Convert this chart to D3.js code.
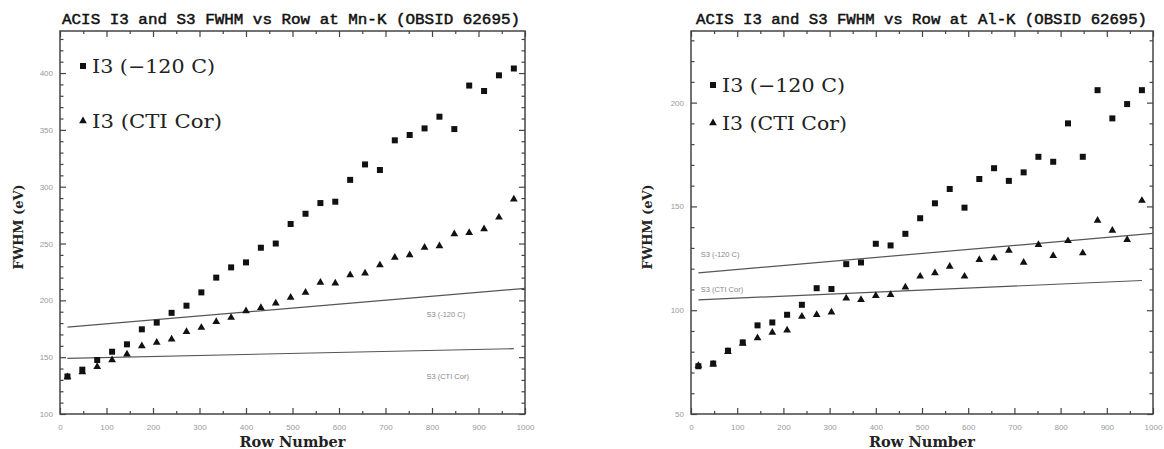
<!DOCTYPE html>
<html>
<head>
<meta charset="utf-8">
<script src="https://cdn.jsdelivr.net/npm/d3@7"></script>
<style>
  html, body { margin: 0; padding: 0; background: #fff; }
  svg { display: block; }
</style>
</head>
<body>
<svg id="chart" width="1164" height="449"></svg>
<script>
// Row positions of the binned measurements (shared by both lines)
const rows = [16, 48, 80, 112, 144, 176, 208, 240, 272, 304, 336, 368, 400, 432, 464, 496,
              528, 560, 592, 624, 656, 688, 720, 752, 784, 816, 848, 880, 912, 944, 976];

// Mn-K FWHM (eV)
const mnI3Cold = [133, 139, 147.5, 154.8, 161.3, 174.5, 180.4, 189, 195.3, 207, 220, 229, 233.4, 246.3, 250, 267.2,
                  276.2, 285.6, 286.8, 306, 319.6, 314.7, 340.8, 345.5, 351.3, 361.6, 350.7, 389, 384.2, 398, 404];
const mnI3Cti  = [132.5, 137, 141.6, 147.5, 152.5, 159.8, 163, 165.7, 172.4, 176, 181.2, 184.8, 190.6, 193.5, 197.4, 202.6,
                  207, 215.8, 215, 222.3, 223.8, 231, 237.8, 239.9, 246.6, 247.8, 258.4, 259.5, 262.8, 273, 289];

// Al-K FWHM (eV)
const alI3Cold = [73, 74.3, 80.5, 84.5, 92.7, 94.1, 97.8, 102.6, 110.6, 110.2, 122.2, 123, 132, 131.2, 136.8, 144.3,
                  151.5, 158.4, 149.4, 163.2, 168.4, 162.3, 166.4, 173.9, 171.5, 190, 173.9, 206, 192.4, 199.3, 206];
const alI3Cti  = [73.3, 74, 80, 84, 86.6, 89.3, 90.3, 97, 97.8, 99, 105.8, 105, 107, 107.4, 111.1, 116.3,
                  117.9, 121.1, 116.3, 124.3, 125.1, 128.8, 123, 131.5, 126.2, 133.4, 127.5, 143.2, 138.4, 133.9, 152.8];

// S3 reference fits: [row, FWHM] end points
const mnS3Cold = [[16, 176.5], [1000, 210.5]];
const mnS3Cti  = [[16, 149], [976, 157.5]];
const alS3Cold = [[16, 118], [1000, 137]];
const alS3Cti  = [[16, 105], [976, 114.3]];

// Axis ticks
const xMajor = [0, 100, 200, 300, 400, 500, 600, 700, 800, 900, 1000];
const xMinor = [50, 150, 250, 350, 450, 550, 650, 750, 850, 950];
const mnYMajor = [100, 150, 200, 250, 300, 350, 400];
const alYMajor = [50, 100, 150, 200];

const panels = [
  {
    title: "ACIS I3 and S3 FWHM vs Row at Mn-K (OBSID 62695)",
    titleX: 62, titleLen: 458,
    x0: 60, x1: 525, yDomain: [100, 437],
    yMajor: mnYMajor, yMinorStep: 10,
    cold: mnI3Cold, cti: mnI3Cti,
    s3Cold: mnS3Cold, s3Cti: mnS3Cti,
    s3ColdLabel: { row: 788, val: 188 },
    s3CtiLabel:  { row: 788, val: 133.5 },
    legend: { x: 83, y1: 66, y2: 121, tx: 92, len1: 123, len2: 130 },
    yTitleX: 18
  },
  {
    title: "ACIS I3 and S3 FWHM vs Row at Al-K (OBSID 62695)",
    titleX: 696, titleLen: 451,
    x0: 691, x1: 1153, yDomain: [50, 234.5],
    yMajor: alYMajor, yMinorStep: 10,
    cold: alI3Cold, cti: alI3Cti,
    s3Cold: alS3Cold, s3Cti: alS3Cti,
    s3ColdLabel: { row: 21, val: 127 },
    s3CtiLabel:  { row: 21, val: 110.2 },
    legend: { x: 713, y1: 85, y2: 123, tx: 722, len1: 123, len2: 125 },
    yTitleX: 647
  }
];

const svg = d3.select("#chart");
const yTop = 31, yBottom = 414;
const frameColor = "#444";
const tickFont = "Liberation Sans, Arial, sans-serif";
const serifFont = "DejaVu Serif, Liberation Serif, serif";

panels.forEach(p => {
  const g = svg.append("g");
  const x = d3.scaleLinear().domain([0, 1000]).range([p.x0, p.x1]);
  const y = d3.scaleLinear().domain(p.yDomain).range([yBottom, yTop]);

  const yMinor = d3.range(p.yDomain[0], p.yDomain[1], p.yMinorStep)
    .filter(v => !p.yMajor.includes(v));

  // title
  g.append("text")
    .attr("x", p.titleX).attr("y", 24)
    .attr("textLength", p.titleLen).attr("lengthAdjust", "spacingAndGlyphs")
    .style("font-family", "Liberation Mono, DejaVu Sans Mono, monospace")
    .style("font-size", "14px").style("fill", "#111")
    .style("stroke", "#111").style("stroke-width", "0.45px")
    .text(p.title);

  // axes with inward ticks on all four sides
  const styleAxis = sel => {
    sel.select(".domain").remove();
    sel.selectAll(".tick line").attr("stroke", frameColor).attr("stroke-width", 1.2);
    sel.selectAll(".tick text").style("font-family", tickFont).style("font-size", "8px").style("fill", "#999");
  };

  g.append("g").attr("transform", `translate(0,${yBottom})`)
    .call(d3.axisBottom(x).tickValues(xMajor).tickSizeInner(-6).tickSizeOuter(0).tickPadding(10).tickFormat(d3.format("d")))
    .call(styleAxis);
  g.append("g").attr("transform", `translate(0,${yBottom})`)
    .call(d3.axisBottom(x).tickValues(xMinor).tickSizeInner(-3).tickSizeOuter(0).tickFormat(""))
    .call(styleAxis);
  g.append("g").attr("transform", `translate(0,${yTop})`)
    .call(d3.axisTop(x).tickValues(xMajor).tickSizeInner(-6).tickSizeOuter(0).tickFormat(""))
    .call(styleAxis);
  g.append("g").attr("transform", `translate(0,${yTop})`)
    .call(d3.axisTop(x).tickValues(xMinor).tickSizeInner(-3).tickSizeOuter(0).tickFormat(""))
    .call(styleAxis);

  g.append("g").attr("transform", `translate(${p.x0},0)`)
    .call(d3.axisLeft(y).tickValues(p.yMajor).tickSizeInner(-6).tickSizeOuter(0).tickPadding(7).tickFormat(d3.format("d")))
    .call(styleAxis);
  g.append("g").attr("transform", `translate(${p.x0},0)`)
    .call(d3.axisLeft(y).tickValues(yMinor).tickSizeInner(-3.5).tickSizeOuter(0).tickFormat(""))
    .call(styleAxis);
  g.append("g").attr("transform", `translate(${p.x1},0)`)
    .call(d3.axisRight(y).tickValues(p.yMajor).tickSizeInner(-6).tickSizeOuter(0).tickFormat(""))
    .call(styleAxis);
  g.append("g").attr("transform", `translate(${p.x1},0)`)
    .call(d3.axisRight(y).tickValues(yMinor).tickSizeInner(-3.5).tickSizeOuter(0).tickFormat(""))
    .call(styleAxis);

  // frame
  g.append("rect")
    .attr("x", p.x0).attr("y", yTop)
    .attr("width", p.x1 - p.x0).attr("height", yBottom - yTop)
    .attr("fill", "none").attr("stroke", frameColor).attr("stroke-width", 1.5);

  // axis titles
  g.append("text")
    .attr("x", (p.x0 + p.x1) / 2).attr("y", 447)
    .attr("text-anchor", "middle")
    .attr("textLength", 106).attr("lengthAdjust", "spacingAndGlyphs")
    .style("font-family", serifFont).style("font-weight", "bold").style("font-size", "14px").style("fill", "#222")
    .text("Row Number");
  g.append("text")
    .attr("transform", `translate(${p.yTitleX + 5},227) rotate(-90)`)
    .attr("text-anchor", "middle")
    .attr("textLength", 85).attr("lengthAdjust", "spacingAndGlyphs")
    .style("font-family", serifFont).style("font-weight", "bold").style("font-size", "13px").style("fill", "#222")
    .text("FWHM (eV)");

  // S3 reference lines
  const line = d3.line().x(d => x(d[0])).y(d => y(d[1]));
  [p.s3Cold, p.s3Cti].forEach(seg => {
    g.append("path").attr("d", line(seg))
      .attr("fill", "none").attr("stroke", "#555").attr("stroke-width", 1.2);
  });
  [[p.s3ColdLabel, "S3 (-120 C)"], [p.s3CtiLabel, "S3 (CTI Cor)"]].forEach(([l, t]) => {
    g.append("text")
      .attr("x", x(l.row)).attr("y", y(l.val))
      .attr("dy", "0.35em")
      .style("font-family", tickFont).style("font-size", "7.5px").style("fill", "#888")
      .text(t);
  });

  // I3 measurements
  const sq = 6;
  g.append("g").selectAll("rect")
    .data(rows.map((r, i) => [r, p.cold[i]]))
    .join("rect")
    .attr("x", d => x(d[0]) - sq / 2).attr("y", d => y(d[1]) - sq / 2)
    .attr("width", sq).attr("height", sq).attr("fill", "#111");

  const tri = d3.symbol().type(d3.symbolTriangle).size(26);
  g.append("g").selectAll("path")
    .data(rows.map((r, i) => [r, p.cti[i]]))
    .join("path")
    .attr("transform", d => `translate(${x(d[0])},${y(d[1])})`)
    .attr("d", tri).attr("fill", "#111");

  // legend
  const L = p.legend;
  g.append("rect").attr("x", L.x - 3).attr("y", L.y1 - 3).attr("width", 6).attr("height", 6).attr("fill", "#111");
  g.append("path").attr("transform", `translate(${L.x},${L.y2})`).attr("d", tri).attr("fill", "#111");
  g.append("text").attr("x", L.tx).attr("y", L.y1 + 7)
    .attr("textLength", L.len1).attr("lengthAdjust", "spacingAndGlyphs")
    .style("font-family", serifFont).style("font-size", "19px").style("fill", "#222")
    .text("I3 (\u2212120 C)");
  g.append("text").attr("x", L.tx).attr("y", L.y2 + 7)
    .attr("textLength", L.len2).attr("lengthAdjust", "spacingAndGlyphs")
    .style("font-family", serifFont).style("font-size", "19px").style("fill", "#222")
    .text("I3 (CTI Cor)");
});
</script>
</body>
</html>
